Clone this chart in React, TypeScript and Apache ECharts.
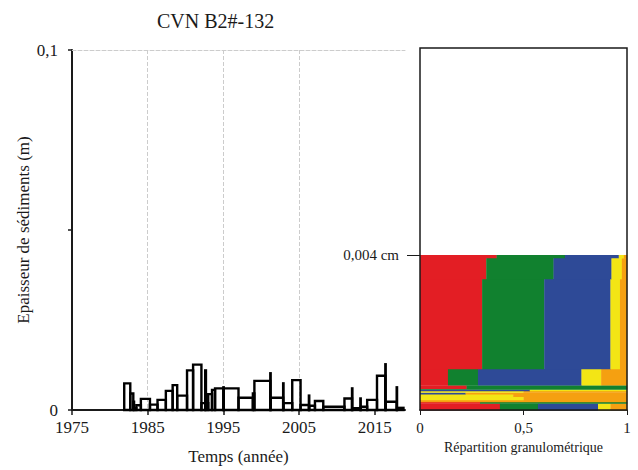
import React, { useEffect, useRef } from "react";
import * as echarts from "echarts";

// ---- Left panel: sediment deposit events (start year boundaries, thickness in m)
const eventYears = [
  1981.9, 1982.7, 1983.1, 1983.2, 1983.5, 1984.1, 1985.3, 1986.3, 1987.4, 1988.3,
  1988.9, 1990.2, 1991.0, 1992.1, 1992.6, 1992.7, 1993.0, 1993.5, 1993.9, 1995.0,
  1995.05, 1997.0, 1998.9, 1999.1, 2001.2, 2001.25, 2002.9, 2002.95, 2004.1, 2005.2,
  2006.3, 2006.35, 2007.1, 2008.2, 2011.0, 2012.0, 2012.05, 2013.1, 2013.15, 2014.0,
  2015.3, 2016.4, 2016.45, 2017.9, 2017.95, 2018.8,
];
const eventThickness = [
  0.0074, 0.0046, 0.0023, 0.0005, 0.0013, 0.0031, 0.0015, 0.0028, 0.0053, 0.0069,
  0.004, 0.011, 0.0126, 0.0019, 0.011, 0.0019, 0.0044, 0.0056, 0.006, 0.0063,
  0.006, 0.0034, 0.0046, 0.0081, 0.0102, 0.0034, 0.0074, 0.0019, 0.0083, 0.0014,
  0.004, 0.0012, 0.0025, 0.0009, 0.0032, 0.006, 0.0005, 0.0032, 0.0009, 0.0028,
  0.0095, 0.0127, 0.0023, 0.0063, 0.0006,
];
const yearTicks = [1975, 1985, 1995, 2005, 2015];

// ---- Right panel: granulometric distribution per layer (layer top in cm, bottom up)
const layerTop = [
  0.00017, 0.00021, 0.00026, 0.00034, 0.00041, 0.00045, 0.00049, 0.00053, 0.00055,
  0.00064, 0.00106, 0.00338, 0.00392, 0.004,
];
const fracRed = [0.386, 0.29, 0, 0, 0, 0, 0, 0, 0, 0.225, 0.135, 0.3, 0.32, 0.37];
const fracGreen = [0.184, 0.71, 0, 0, 0, 0, 0, 0, 1, 0.775, 0.145, 0.3, 0.325, 0.33];
const fracBlue = [0.29, 0, 0, 0, 0, 0.22, 0, 0.53, 0, 0, 0.5, 0.32, 0.28, 0.26];
const fracYellow = [0.06, 0, 0, 0.5, 0.45, 0, 0.5, 0.47, 0, 0, 0.095, 0.046, 0.05, 0.025];
const fracOrange = [0.08, 0, 1, 0.5, 0.55, 0.78, 0.5, 0, 0, 0, 0.125, 0.034, 0.025, 0.015];
const depthMarker = [0.004];
const fractionTicks = [0, 0.5, 1];

const classColors = ["#e31e24", "#11812f", "#2e4a97", "#f3e515", "#f5a011"];
const FONT = "Liberation Serif";
const INK = "#1a1a1a";

function buildEventBlocks() {
  const out: number[][] = [];
  for (let i = 0; i < eventThickness.length; i++) {
    out.push([eventYears[i], eventYears[i + 1], eventThickness[i]]);
  }
  return out;
}

function buildLayerRects() {
  const out: number[][] = [];
  const fr = [fracRed, fracGreen, fracBlue, fracYellow, fracOrange];
  for (let i = 0; i < layerTop.length; i++) {
    const y0 = i === 0 ? 0 : layerTop[i - 1];
    const y1 = layerTop[i];
    let cum = 0;
    for (let k = 0; k < fr.length; k++) {
      const f = fr[k][i];
      if (f > 0) {
        out.push([cum, Math.min(1, cum + f), y0, y1, k]);
      }
      cum += f;
    }
  }
  return out;
}

const comma = (v: number) => String(v).replace(".", ",");

export default function App() {
  const ref = useRef<HTMLDivElement>(null);
  useEffect(() => {
    if (!ref.current) return;
    const chart = echarts.init(ref.current, undefined, { renderer: "svg" });
    const option: any = {
      animation: false,
      backgroundColor: "#ffffff",
      textStyle: { fontFamily: FONT, color: INK },
      title: {
        text: "CVN B2#-132",
        left: 152,
        top: 6,
        textStyle: { fontFamily: FONT, fontSize: 20, fontWeight: "normal", color: INK },
      },
      grid: [
        { left: 72, right: 233, top: 50, bottom: 60 },
        {
          left: 420,
          right: 11,
          top: 48,
          bottom: 60,
          show: true,
          borderColor: INK,
          borderWidth: 1.5,
          backgroundColor: "transparent",
          z: 10,
        },
      ],
      xAxis: [
        {
          gridIndex: 0,
          type: "value",
          min: 1975,
          max: 2019,
          interval: 10,
          name: "Temps (année)",
          nameLocation: "middle",
          nameGap: 38,
          nameTextStyle: { fontFamily: FONT, fontSize: 17, color: INK },
          axisLine: { onZero: false, lineStyle: { color: INK, width: 2 } },
          axisTick: { length: 5, customValues: yearTicks, lineStyle: { color: INK, width: 1.5 } },
          axisLabel: {
            customValues: yearTicks,
            fontFamily: FONT,
            fontSize: 17,
            color: INK,
            margin: 9,
            formatter: (v: number) => String(v),
          },
          splitLine: {
            show: true,
            showMinLine: false,
            showMaxLine: false,
            lineStyle: { type: "dashed", color: "#cccccc", width: 1 },
          },
        },
        {
          gridIndex: 0,
          type: "value",
          position: "top",
          min: 1975,
          max: 2019,
          axisLine: { show: true, onZero: false, lineStyle: { type: "dashed", color: "#cccccc", width: 1 } },
          axisTick: { show: false },
          axisLabel: { show: false },
          splitLine: { show: false },
        },
        {
          gridIndex: 1,
          type: "value",
          min: 0,
          max: 1,
          interval: 0.5,
          name: "Répartition granulométrique",
          nameLocation: "middle",
          nameGap: 30,
          nameTextStyle: { fontFamily: FONT, fontSize: 14, color: INK },
          axisLine: { onZero: false, lineStyle: { color: INK, width: 1.5 } },
          axisTick: { length: 5, customValues: fractionTicks, lineStyle: { color: INK, width: 1 } },
          axisLabel: {
            customValues: fractionTicks,
            fontFamily: FONT,
            fontSize: 15,
            color: INK,
            margin: 10,
            formatter: (v: number) => comma(v),
          },
          splitLine: { show: false },
        },
      ],
      yAxis: [
        {
          gridIndex: 0,
          type: "value",
          min: 0,
          max: 0.1,
          interval: 0.05,
          name: "Epaisseur de sédiments (m)",
          nameLocation: "middle",
          nameGap: 40,
          nameMoveOverlap: false,
          nameTextStyle: { fontFamily: FONT, fontSize: 17, color: INK },
          axisLine: { show: true, onZero: false, lineStyle: { color: INK, width: 2 } },
          axisTick: { show: true, length: 4, lineStyle: { color: INK, width: 1.5 } },
          axisLabel: {
            fontFamily: FONT,
            fontSize: 17,
            color: INK,
            margin: 14,
            formatter: (v: number) => (v === 0 ? "0" : Math.abs(v - 0.1) < 1e-9 ? "0,1" : ""),
          },
          splitLine: { show: false },
        },
        {
          gridIndex: 1,
          type: "value",
          min: 0,
          max: 0.00934,
          axisLine: { show: false },
          axisTick: { show: true, length: 13, customValues: depthMarker, lineStyle: { color: INK, width: 1 } },
          axisLabel: {
            customValues: depthMarker,
            fontFamily: FONT,
            fontSize: 15,
            color: INK,
            margin: 21,
            formatter: (v: number) => comma(v) + " cm",
          },
          splitLine: { show: false },
        },
      ],
      series: [
        {
          type: "custom",
          xAxisIndex: 0,
          yAxisIndex: 0,
          data: buildEventBlocks(),
          renderItem: (params: any, api: any) => {
            const p0 = api.coord([api.value(0), api.value(2)]);
            const p1 = api.coord([api.value(1), 0]);
            return {
              type: "rect",
              shape: { x: p0[0], y: p0[1], width: p1[0] - p0[0], height: p1[1] - p0[1] },
              style: { fill: "none", stroke: "#000", lineWidth: 2.4 },
            };
          },
          z: 5,
        },
        {
          type: "custom",
          xAxisIndex: 2,
          yAxisIndex: 1,
          data: buildLayerRects(),
          renderItem: (params: any, api: any) => {
            const p0 = api.coord([api.value(0), api.value(3)]);
            const p1 = api.coord([api.value(1), api.value(2)]);
            return {
              type: "rect",
              shape: { x: p0[0], y: p0[1], width: p1[0] - p0[0] + 0.3, height: p1[1] - p0[1] + 0.3 },
              style: { fill: classColors[api.value(4)], stroke: "none" },
            };
          },
          z: 2,
        },
      ],
    };
    chart.setOption(option);
    return () => chart.dispose();
  }, []);
  return (
    <div
      ref={ref}
      style={{ position: "fixed", left: 0, top: 0, width: 638, height: 470, background: "#fff" }}
    />
  );
}
